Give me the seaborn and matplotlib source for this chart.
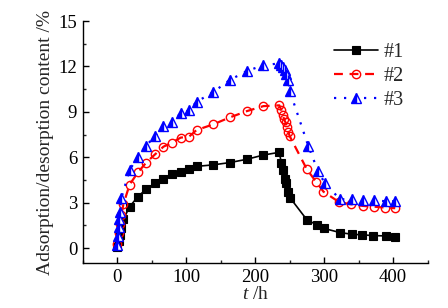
import numpy as np
import pandas as pd
import seaborn as sns
import matplotlib.pyplot as plt
from matplotlib.ticker import MultipleLocator

# Data (time in h, content in %)
t1 = [0, 2, 4, 6, 9, 18, 30, 42, 55, 67, 79, 92, 104, 115, 139, 163, 188, 212, 235,
      238, 241, 243, 245, 248, 251, 275, 289, 300, 323, 340, 355, 371, 389, 403]
y1 = [0.1, 0.5, 0.9, 1.3, 1.9, 2.74, 3.4, 3.9, 4.3, 4.6, 4.9, 5.05, 5.2, 5.4, 5.5, 5.65, 5.87, 6.15, 6.33,
      5.6, 5.16, 4.6, 4.3, 3.73, 3.3, 1.87, 1.55, 1.3, 1.03, 0.92, 0.88, 0.83, 0.81, 0.72]

t2 = [0, 2, 4, 6, 9, 18, 30, 42, 55, 67, 79, 92, 104, 115, 139, 163, 188, 212, 235,
      238, 240, 242, 244, 246, 248, 250, 275, 288, 299, 322, 339, 356, 372, 388, 403]
y2 = [0.3, 1.0, 1.6, 2.2, 2.9, 4.2, 5.0, 5.65, 6.2, 6.7, 6.96, 7.3, 7.36, 7.8, 8.17, 8.63, 9.05, 9.38, 9.43,
      9.1, 8.8, 8.5, 8.3, 8.0, 7.7, 7.4, 5.2, 4.4, 3.73, 3.03, 2.9, 2.79, 2.74, 2.68, 2.64]

t3 = [0, 1, 2, 3, 4, 6, 18, 30, 42, 55, 67, 79, 92, 104, 115, 139, 163, 188, 212, 235,
      238, 240, 243, 245, 248, 250, 277, 291, 301, 323, 340, 356, 372, 389, 403]
y3 = [0.2, 0.8, 1.4, 1.9, 2.4, 3.3, 5.16, 6.04, 6.76, 7.42, 8.08, 8.35, 8.9, 9.1, 9.66, 10.3, 11.1, 11.7, 12.08, 12.2,
      12.08, 11.97, 11.75, 11.5, 11.1, 10.4, 6.74, 5.1, 4.28, 3.23, 3.23, 3.2, 3.15, 3.1, 3.1]

labels = ["#1", "#2", "#3"]

sns.set_style("ticks")
plt.rcParams["font.family"] = ["Liberation Serif", "DejaVu Serif"]
plt.rcParams["mathtext.fontset"] = "custom"
plt.rcParams["mathtext.rm"] = "Liberation Serif"
plt.rcParams["mathtext.it"] = "Liberation Serif:italic"
plt.rcParams["xtick.direction"] = "in"
plt.rcParams["ytick.direction"] = "in"

fig = plt.figure(figsize=(4.48, 3.08), dpi=100)
ax = fig.add_axes([0.1846, 0.1451, 0.770, 0.7867])

df1 = pd.DataFrame({"t": t1, "y": y1})
df2 = pd.DataFrame({"t": t2, "y": y2})
df3 = pd.DataFrame({"t": t3, "y": y3})

sns.lineplot(data=df1, x="t", y="y", ax=ax, estimator=None, sort=False, label=labels[0],
             color="black", lw=1.2, marker="s", markersize=6,
             markerfacecolor="black", markeredgecolor="black", markeredgewidth=0.8)
sns.lineplot(data=df2, x="t", y="y", ax=ax, estimator=None, sort=False, label=labels[1],
             color="red", lw=1.6, linestyle=(0, (4, 3)), marker="o", markersize=6,
             markerfacecolor="none", markeredgecolor="red", markeredgewidth=1.0)
sns.lineplot(data=df3, x="t", y="y", ax=ax, estimator=None, sort=False, label=labels[2],
             color="blue", lw=1.6, linestyle=(0, (1, 3.5)), marker="^", markersize=7.5,
             fillstyle="left", markerfacecolor="blue", markerfacecoloralt="white",
             markeredgecolor="blue", markeredgewidth=1.0)

ax.set_xlim(-50, 450)
ax.set_ylim(-1, 15)
ax.xaxis.set_major_locator(MultipleLocator(100))
ax.xaxis.set_minor_locator(MultipleLocator(50))
ax.yaxis.set_major_locator(MultipleLocator(3))
ax.yaxis.set_minor_locator(MultipleLocator(1.5))
ax.tick_params(which="major", length=4, width=1, labelsize=13.5, colors="black", pad=4)
ax.tick_params(which="minor", length=2, width=1)
sns.despine(ax=ax)
for s in ["left", "bottom"]:
    ax.spines[s].set_linewidth(1.0)
    ax.spines[s].set_color("black")

ax.set_xlabel(r"$t$ /h", fontsize=14, labelpad=0)
ax.set_ylabel("Adsorption/desorption content /%", fontsize=14, labelpad=3)

ax.legend(loc="upper left", bbox_to_anchor=(0.745, 0.862), bbox_transform=fig.transFigure,
          frameon=False, fontsize=14.5, handlelength=2.2, handletextpad=0.3,
          labelspacing=0.25, borderpad=0, borderaxespad=0)

fig.savefig("out.png", dpi=100)
